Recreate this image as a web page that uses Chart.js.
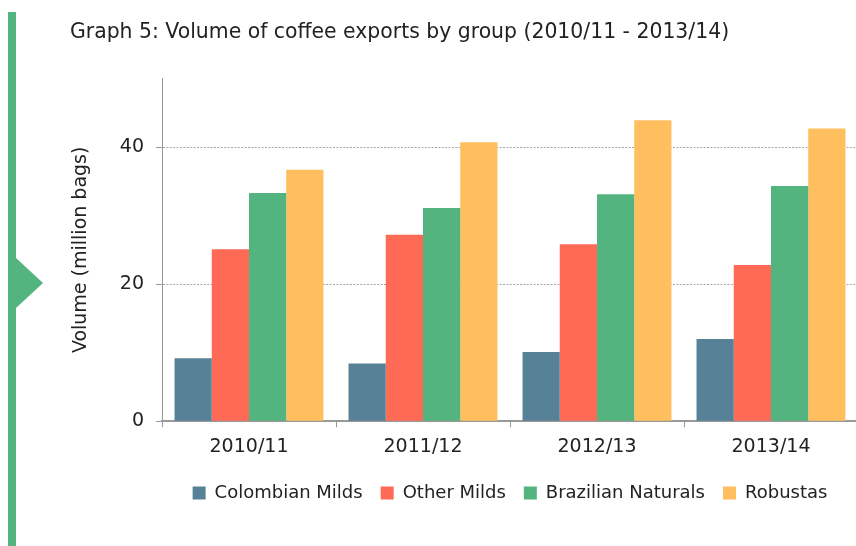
<!DOCTYPE html>
<html>
<head>
<meta charset="utf-8">
<script src="https://cdn.jsdelivr.net/npm/chart.js@4.4.1/dist/chart.umd.min.js"></script>
<style>
  html, body { margin: 0; padding: 0; background: #fff; overflow: hidden; }
  body { width: 856px; height: 546px; position: relative; }
  #wrap { position: absolute; left: 0; top: 0; width: 880px; height: 546px; }
  .side { position: absolute; left: 8px; top: 12px; width: 8px; height: 534px; background: #53b47f; }
  .arrow { position: absolute; left: 16px; top: 258px; width: 0; height: 0;
           border-top: 25px solid transparent; border-bottom: 25px solid transparent;
           border-left: 27px solid #53b47f; }
</style>
</head>
<body>
<div class="side"></div>
<div class="arrow"></div>
<div id="wrap"><canvas id="coffee"></canvas></div>
<script>
const seasons = ["2010/11", "2011/12", "2012/13", "2013/14"];
const colombianMilds = [9.2, 8.4, 10.1, 12.0];
const otherMilds = [25.1, 27.2, 25.8, 22.8];
const brazilianNaturals = [33.3, 31.1, 33.1, 34.3];
const robustas = [36.7, 40.7, 43.9, 42.7];

const fontFamily = "'DejaVu Sans', 'Open Sans', sans-serif";
const textColor = "#222";

const coffee = document.getElementById("coffee");
var myChart = new Chart(coffee, {
  type: "bar",
  data: {
    labels: seasons,
    datasets: [
      { label: "Colombian Milds", data: colombianMilds, backgroundColor: "#568196" },
      { label: "Other Milds", data: otherMilds, backgroundColor: "#ff6a56" },
      { label: "Brazilian Naturals", data: brazilianNaturals, backgroundColor: "#53b47f" },
      { label: "Robustas", data: robustas, backgroundColor: "#ffbf5f" },
    ],
  },
  options: {
    responsive: true,
    maintainAspectRatio: false,
    animation: false,
    datasets: {
      bar: { categoryPercentage: 0.856, barPercentage: 1.0 },
    },
    layout: {
      padding: { left: 70, right: 22, top: 0, bottom: 34 },
    },
    plugins: {
      title: {
        display: true,
        text: "Graph 5: Volume of coffee exports by group (2010/11 - 2013/14)",
        align: "start",
        color: textColor,
        font: { family: fontFamily, size: 20.4, weight: "normal" },
        padding: { top: 20, bottom: 34 },
      },
      legend: {
        position: "bottom",
        fullSize: false,
        labels: {
          color: textColor,
          font: { family: fontFamily, size: 18 },
          boxWidth: 13,
          boxHeight: 13,
          padding: 18,
        },
      },
      tooltip: { enabled: false },
    },
    scales: {
      y: {
        min: 0,
        max: 50,
        ticks: {
          stepSize: 10,
          color: textColor,
          padding: 12,
          font: { family: fontFamily, size: 19 },
        },
        // only 0, 20, 40 are labelled, the axis still runs up to 50
        afterBuildTicks: (scale) => {
          scale.ticks = scale.ticks.filter((t) => t.value % 20 === 0);
        },
        afterFit: (scale) => {
          scale.width = 92;
        },
        title: {
          display: true,
          text: "Volume (million bags)",
          color: textColor,
          font: { family: fontFamily, size: 19 },
          padding: { top: 0, bottom: 0 },
        },
        grid: {
          color: (ctx) => (ctx.tick && ctx.tick.value === 0 ? "rgba(0,0,0,0)" : "#a6a6a6"),
          tickColor: "#999",
          tickLength: 6,
          tickBorderDash: [],
        },
        border: { color: "#999", width: 1, dash: [2, 1.4] },
      },
      x: {
        ticks: {
          color: textColor,
          padding: 8,
          font: { family: fontFamily, size: 19 },
        },
        grid: {
          drawOnChartArea: false,
          tickColor: "#999",
          tickLength: 6,
          offset: true,
        },
        border: { color: "#999", width: 2 },
      },
    },
  },
});
</script>
</body>
</html>
